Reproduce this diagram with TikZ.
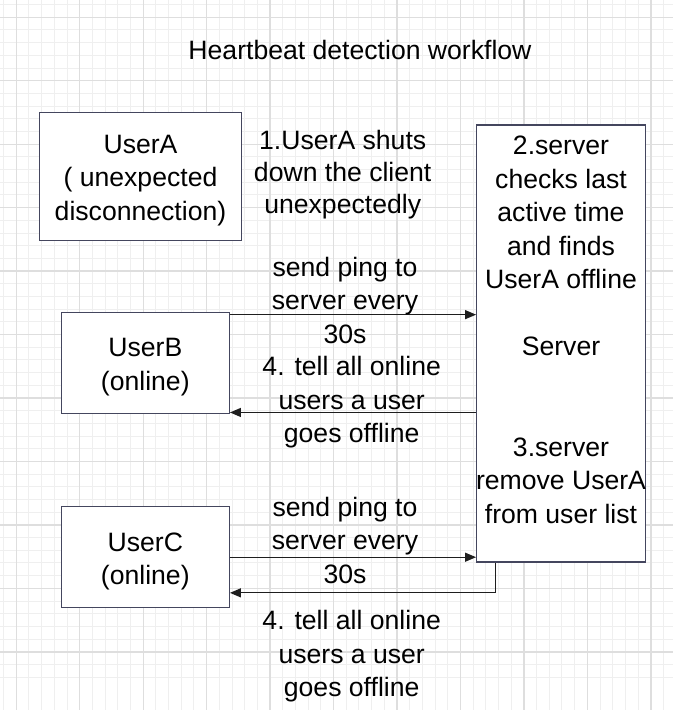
\documentclass[tikz,border=0pt]{standalone}
\usepackage{fontspec}
\setmainfont{Liberation Sans}
\usetikzlibrary{arrows.meta}
\definecolor{gridminor}{HTML}{EFEFEF}
\definecolor{gridmajor}{HTML}{DEDEDE}
\definecolor{boxline}{HTML}{44465E}
\definecolor{arrline}{HTML}{1E1E1E}
\newcommand{\toppad}{\rule{0pt}{27pt}}
\tikzset{
  minorline/.style={gridminor, line width=1pt},
  majorline/.style={gridmajor, line width=1.4pt},
  userbox/.style={draw=boxline, fill=white, line width=1.3pt, inner sep=0pt,
    align=center, font=\fontsize{26.6}{33.5}\selectfont},
  txt/.style={align=center, inner sep=0pt, font=\fontsize{26.6}{33.5}\selectfont},
  arr/.style={draw=arrline, line width=1.2pt, -{Triangle[length=11pt,width=9pt]}}
}
\begin{document}
\begin{tikzpicture}[x=1pt, y=-1pt]
\useasboundingbox (0,0) rectangle (673,710);
\fill[white] (0,0) rectangle (673,710);
% grid
\foreach \i in {0,...,53} {
  \draw[minorline] ({3.6+\i*12.69},0) -- ({3.6+\i*12.69},710);
  \draw[minorline] (0,{4.6+\i*12.69}) -- (673,{4.6+\i*12.69});
}
\foreach \i in {0,...,10} {
  \draw[majorline] ({16.3+\i*63.45},0) -- ({16.3+\i*63.45},710);
  \draw[majorline] (0,{17.3+\i*63.45}) -- (673,{17.3+\i*63.45});
}
% title
\node[txt] (title) at (360,49.5) {Heartbeat detection workflow};
% boxes
\node[userbox, minimum width=202pt, minimum height=128pt] (userA) at (140.5,176.2)
  {\toppad UserA\\( unexpected\\disconnection)};
\node[userbox, minimum width=168pt, minimum height=101pt] (userB) at (145.3,362.8)
  {\toppad UserB\\(online)};
\node[userbox, minimum width=168pt, minimum height=101pt] (userC) at (145.3,557.2)
  {\toppad UserC\\(online)};
\node[userbox, minimum width=169pt, minimum height=437pt] (server) at (561.2,343.5) {};
\node[txt] (servertext) at (561,330) {2.server\\checks last\\active time\\and finds\\UserA offline\\[33.5pt]Server\\[67pt]3.server\\remove UserA\\from user list};
% step 1 label
\node[txt, font=\fontsize{26.6}{32}\selectfont] (step1) at (342.7,174.5) {1.UserA shuts\\down the client\\unexpectedly};
% arrows
\draw[arr] ([yshift=-3pt]userB.north east) -- ([yshift=-3pt]userB.north east -| server.west);
\draw[arr] ([yshift=1.5pt]userB.south east -| server.west) -- ([yshift=1.5pt]userB.south east);
\draw[arr] (userC.east) -- (userC.east -| server.west);
\draw[arr] ([xshift=19.6pt]server.south west) |- ([yshift=15.5pt]userC.south east);
% labels
\node[txt] (ping1) at (345,300) {send ping to\\server every\\30s};
\node[txt] (tell1) at (351.7,402.5) {4. tell all online\\users a user\\goes offline};
\node[txt] (ping2) at (345,540) {send ping to\\server every\\30s};
\node[txt] (tell2) at (351.7,656.5) {4. tell all online\\users a user\\goes offline};
\end{tikzpicture}
\end{document}
